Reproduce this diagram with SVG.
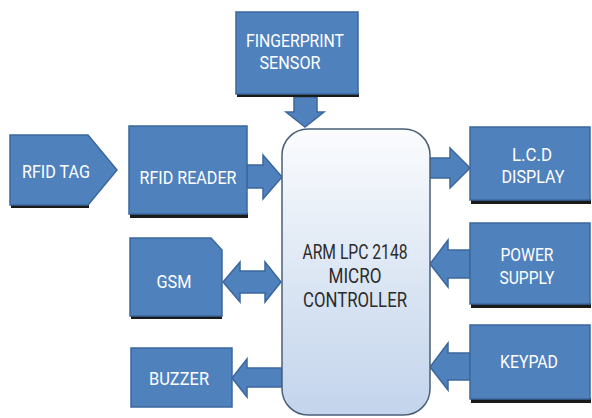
<svg xmlns="http://www.w3.org/2000/svg" width="592" height="418" viewBox="0 0 592 418">
<defs>
<linearGradient id="mcuGrad" x1="0" y1="0" x2="0" y2="1">
<stop offset="0" stop-color="#fbfcfe"/>
<stop offset="0.5" stop-color="#dde7f4"/>
<stop offset="1" stop-color="#c3d4ec"/>
</linearGradient>
</defs>
<style>
.box{fill:#4f81bd;stroke:#3b679c;stroke-width:1.5}
.shadow{fill:#1a1a1a}
.arrow{fill:#4f81bd;stroke:#3b679c;stroke-width:1.5;stroke-linejoin:miter}
.lbl{font-family:Roboto,"Liberation Sans",sans-serif;font-size:19px;fill:#ffffff;text-anchor:middle}
.mlbl{font-family:Roboto,"Liberation Sans",sans-serif;font-size:20px;fill:#2b2b2b;text-anchor:middle}
</style>
<rect width="592" height="418" fill="#ffffff"/>
<g id="connectors">
<path class="arrow" d="M294,97 L317,97 L317,112 L324,112 L305,127 L286,112 L294,112 Z"/>
<path class="arrow" d="M247,165 L263,165 L263,155 L282,177 L263,199 L263,188 L247,188 Z"/>
<path class="arrow" d="M430,158 L450,158 L450,148 L470,168 L450,188 L450,178 L430,178 Z"/>
<path class="arrow" d="M223,282 L240,262 L240,271 L265,271 L265,262 L281,282 L265,302 L265,293 L240,293 L240,302 Z"/>
<path class="arrow" d="M282,368 L247,368 L247,359 L232,378 L247,397 L247,387 L282,387 Z"/>
<path class="arrow" d="M470,250 L448,250 L448,240 L430,264 L448,287 L448,278 L470,278 Z"/>
<path class="arrow" d="M470,353 L448,353 L448,343 L430,367 L448,390 L448,380 L470,380 Z"/>
</g>
<g id="fingerprint">
<rect class="shadow" x="237" y="93" width="122" height="4"/>
<rect class="box" x="236" y="12" width="122" height="82"/>
<text class="lbl" x="295" y="47" textLength="98" lengthAdjust="spacingAndGlyphs">FINGERPRINT</text>
<text class="lbl" x="290" y="69" textLength="61" lengthAdjust="spacingAndGlyphs">SENSOR</text>
</g>
<g id="rfidtag">
<rect class="shadow" x="11" y="204" width="78" height="4"/>
<path class="box" d="M10,135 L88,135 L117,170 L88,205 L10,205 Z"/>
<text class="lbl" x="56" y="178" textLength="68" lengthAdjust="spacingAndGlyphs">RFID TAG</text>
</g>
<g id="rfidreader">
<rect class="shadow" x="130" y="213" width="118" height="5"/>
<rect class="box" x="129" y="126" width="118" height="88"/>
<text class="lbl" x="188" y="184" textLength="97" lengthAdjust="spacingAndGlyphs">RFID READER</text>
</g>
<g id="mcu">
<rect x="282" y="129" width="148" height="286" rx="26" ry="26" fill="url(#mcuGrad)" stroke="#4a5f78" stroke-width="1.5"/>
<text class="mlbl" x="355" y="259" textLength="105" lengthAdjust="spacingAndGlyphs">ARM LPC 2148</text>
<text class="mlbl" x="355" y="283" textLength="53" lengthAdjust="spacingAndGlyphs">MICRO</text>
<text class="mlbl" x="355" y="307" textLength="104" lengthAdjust="spacingAndGlyphs">CONTROLLER</text>
</g>
<g id="lcd">
<rect class="shadow" x="471" y="199" width="120" height="5"/>
<rect class="box" x="470" y="127" width="120" height="73"/>
<text class="lbl" x="532" y="161" textLength="40" lengthAdjust="spacingAndGlyphs">L.C.D</text>
<text class="lbl" x="533" y="183" textLength="63" lengthAdjust="spacingAndGlyphs">DISPLAY</text>
</g>
<g id="gsm">
<rect class="shadow" x="131" y="315" width="91" height="4"/>
<path class="box" d="M130,238 L211,238 L222,250 L222,316 L130,316 Z"/>
<text class="lbl" x="174" y="288" textLength="35" lengthAdjust="spacingAndGlyphs">GSM</text>
</g>
<g id="buzzer">
<rect class="box" x="131" y="348" width="101" height="59"/>
<text class="lbl" x="179" y="385" textLength="60" lengthAdjust="spacingAndGlyphs">BUZZER</text>
</g>
<g id="power">
<rect class="shadow" x="471" y="303" width="120" height="5"/>
<rect class="box" x="470" y="223" width="120" height="81"/>
<text class="lbl" x="527" y="261" textLength="53" lengthAdjust="spacingAndGlyphs">POWER</text>
<text class="lbl" x="527" y="284" textLength="55" lengthAdjust="spacingAndGlyphs">SUPPLY</text>
</g>
<g id="keypad">
<rect class="shadow" x="471" y="398" width="120" height="5"/>
<rect class="box" x="470" y="325" width="120" height="74"/>
<text class="lbl" x="529" y="368" textLength="58" lengthAdjust="spacingAndGlyphs">KEYPAD</text>
</g>
</svg>
